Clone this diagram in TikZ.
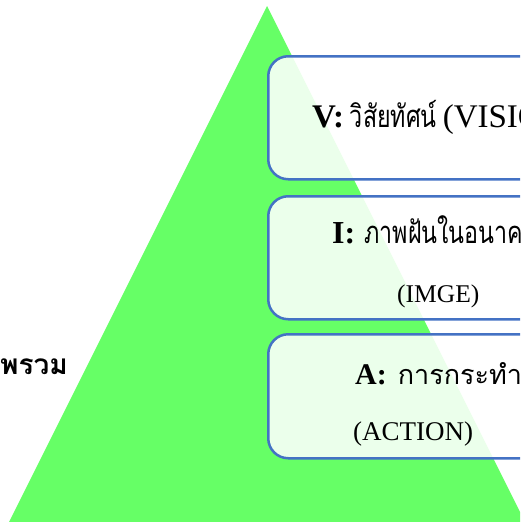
\documentclass[tikz,border=0pt]{standalone}
\usepackage{fontspec}
\setmainfont{Liberation Serif}
\newfontfamily\thaifont[Script=Thai]{Loma}
\newfontfamily\thainarrow[Script=Thai,FakeStretch=0.75]{Loma}
\definecolor{tri}{RGB}{102,255,102}
\definecolor{edge}{RGB}{68,114,196}
\begin{document}
\begin{tikzpicture}[x=1pt,y=-1pt,
  box/.style={draw=edge, line width=2.5pt, fill=white, fill opacity=0.87,
    rounded corners=20pt, minimum width=320pt, anchor=north west, inner sep=0},
  lbl/.style={anchor=base west, inner sep=0, text opacity=1}]
\useasboundingbox (0,0) rectangle (520,522);
\clip (0,0) rectangle (520,522);
\fill[tri] (267,6) -- (9,522) -- (525,522) -- cycle;
\node[box, minimum height=123pt] (bv) at (267,55) {};
\node[box, minimum height=123pt] (bi) at (267,195) {};
\node[box, minimum height=124pt] (ba) at (267,333) {};
\node[lbl, font=\fontsize{33}{36}\selectfont] (tv) at (312,127)
  {\textbf{V:}\hspace{6pt}{\thainarrow\fontsize{31}{34}\selectfont วิสัยทัศน์}\hspace{6pt}(VISION)};
\node[lbl, font=\fontsize{32}{36}\selectfont] (ti1) at (332,243)
  {\textbf{I:}\hspace{9pt}{\thainarrow\fontsize{31}{34}\selectfont ภาพฝันในอนาคต}};
\node[lbl, font=\fontsize{25.5}{30}\selectfont] (ti2) at (397,302) {(IMGE)};
\node[lbl, font=\fontsize{30}{34}\selectfont] (ta1) at (355,384)
  {\textbf{A:}\hspace{11pt}{\thaifont\fontsize{27}{30}\selectfont การกระทำ}};
\node[lbl, font=\fontsize{27}{30}\selectfont] (ta2) at (353,440) {(ACTION)};
\node[anchor=base east, inner sep=0, font=\thaifont\bfseries\fontsize{28}{30}\selectfont] (ov) at (68,374) {พรวม};
\end{tikzpicture}
\end{document}
